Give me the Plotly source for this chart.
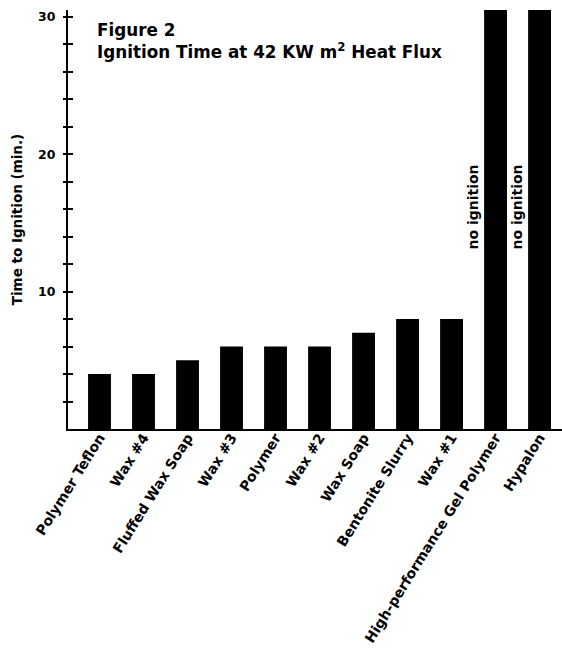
import plotly.graph_objects as go

categories = ["Polymer Teflon", "Wax #4", "Fluffed Wax Soap", "Wax #3", "Polymer",
              "Wax #2", "Wax Soap", "Bentonite Slurry", "Wax #1",
              "High-performance Gel Polymer", "Hypalon"]
ignition_min = [4, 4, 5, 6, 6, 6, 7, 8, 8, 30.5, 30.5]
no_ignition = ["High-performance Gel Polymer", "Hypalon"]
y_tickvals = [2, 4, 6, 8, 10, 12, 14, 16, 18, 20, 22, 24, 26, 28, 30]
y_ticktext = ["", "", "", "", "10", "", "", "", "", "20", "", "", "", "", "30"]

FONT = "DejaVu Sans"
L, R, T, B = 68, 0, 10, 226
PW, PH = 562 - L - R, 655 - T - B

fig = go.Figure()
fig.add_trace(go.Bar(x=categories, y=ignition_min, marker_color="black",
                     marker_line_width=0, showlegend=False))

for c in no_ignition:
    fig.add_annotation(x=c, y=(429 - 207) / PH, xref="x", yref="paper",
                       text="<b>no ignition</b>", textangle=-90, showarrow=False,
                       xshift=-23, font=dict(family=FONT, size=14, color="black"))

fig.add_annotation(xref="paper", yref="paper", x=(95 - L) / PW, y=1 - (17.5 - T) / PH,
                   xanchor="left", yanchor="top", align="left", showarrow=False,
                   text="<b>Figure 2</b><br><b>Ignition Time at 42 KW m<sup>2</sup> Heat Flux</b>",
                   font=dict(family=FONT, size=16.8, color="black"))

fig.update_layout(
    width=562, height=655,
    margin=dict(l=L, r=R, t=T, b=B, pad=0),
    paper_bgcolor="white", plot_bgcolor="white",
    bargap=0.48,
    font=dict(family=FONT, color="black"),
    xaxis=dict(range=[-0.716, 10.51], showline=True, linecolor="black", linewidth=2,
               ticks="", tickangle=-58, showgrid=False, zeroline=False, automargin=False,
               tickmode="array", tickvals=categories,
               ticktext=["<b>" + c + "</b>" for c in categories],
               ticklabelstandoff=-7,
               tickfont=dict(family=FONT, size=14, color="black")),
    yaxis=dict(range=[0, 30.5], showline=True, linecolor="black", linewidth=2,
               tickmode="array", tickvals=y_tickvals,
               ticktext=["<b>" + t + "</b>" if t else "" for t in y_ticktext],
               ticks="outside", ticklen=3, tickwidth=1.5, tickcolor="black",
               ticklabelstandoff=5, automargin=False,
               showgrid=False, zeroline=False,
               tickfont=dict(family=FONT, size=12.5, color="black"),
               title=dict(text="<b>Time to Ignition (min.)</b>", standoff=12,
                          font=dict(family=FONT, size=13.5, color="black"))),
    yaxis2=dict(range=[0, 30.5], overlaying="y", side="left", showline=False,
                tickmode="array", tickvals=y_tickvals,
                ticks="inside", ticklen=5, tickwidth=1.5, tickcolor="black",
                showgrid=False, zeroline=False, showticklabels=False, automargin=False),
)
fig.add_trace(go.Scatter(x=[categories[0]], y=[0], yaxis="y2", mode="markers",
                         marker=dict(opacity=0), showlegend=False, hoverinfo="skip"))

fig.write_html("out.html", config={"displayModeBar": False},
               post_script="document.body.style.margin='0';document.body.style.padding='0';")
